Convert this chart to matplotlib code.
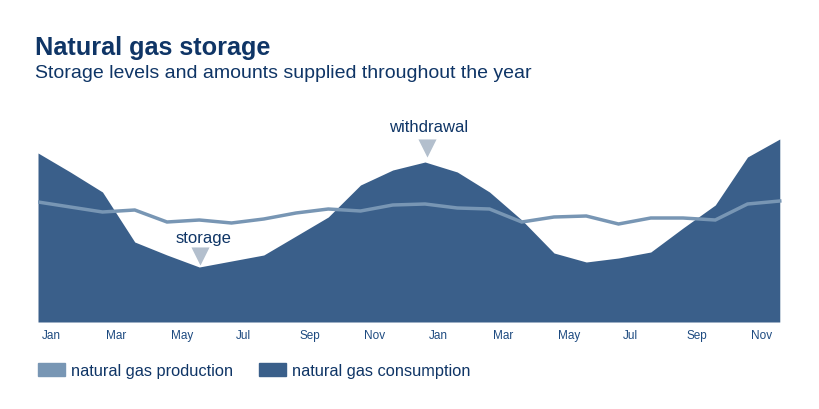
import numpy as np
import matplotlib.pyplot as plt
from matplotlib.patches import Patch

# two years, monthly
months = np.arange(24)
tick_labels = ["Jan", "Mar", "May", "Jul", "Sep", "Nov"] * 2

consumption = [169, 150, 130, 80, 67, 55, 61, 67, 86, 105, 137, 152,
               160, 150, 130, 102, 69, 60, 64, 70, 94, 117, 165, 183]
production = [120, 115, 110, 112, 100, 102, 99, 103, 109, 113, 111, 117,
              118, 114, 113, 100, 105, 106, 98, 104, 104, 102, 118, 121]

dark = "#3a5f8a"
light = "#7896b4"
navy = "#0f3566"
label_col = "#1d4a80"
marker_col = "#b3bfcd"
font = "Liberation Sans"

fig = plt.figure(figsize=(8.2, 4.09), dpi=100)
fig.patch.set_facecolor("white")

W, H = 820, 409
ax = fig.add_axes([38 / W, 1 - 322 / H, (783 - 38) / W, (322 - 100) / H])
ax.fill_between(months, consumption, 0, color=dark, lw=0)
ax.plot(months, production, color=light, lw=2.5, solid_joinstyle="miter")
ax.set_xlim(0, 23.1)
ax.set_ylim(0, 222)
ax.set_facecolor("none")
for s in ax.spines.values():
    s.set_visible(False)
ax.set_yticks([])
# labels sit a little right of the month they mark
ax.set_xticks(months[::2] + 0.12)
ax.set_xticklabels(tick_labels, ha="left", color=label_col, fontsize=8.5,
                   fontfamily=font)
ax.tick_params(axis="x", length=0, pad=6)

# annotations
ax.text(12.1, 322 - 128, "withdrawal", ha="center", va="center",
        color=navy, fontsize=12, fontfamily=font)
ax.scatter([12.05], [322 - 148], marker="v", s=170, color=marker_col, lw=0)
ax.text(5.12, 322 - 239, "storage", ha="center", va="center",
        color=navy, fontsize=12, fontfamily=font)
ax.scatter([5.02], [322 - 256], marker="v", s=170, color=marker_col, lw=0)

fig.text(35 / W, 1 - 48 / H, "Natural gas storage", fontsize=18.2,
         fontweight="bold", color=navy, va="center", fontfamily=font)
fig.text(35 / W, 1 - 73 / H, "Storage levels and amounts supplied throughout the year",
         fontsize=14.0, color=navy, va="center", fontfamily=font)

handles = [Patch(color=light, label="natural gas production"),
           Patch(color=dark, label="natural gas consumption")]
fig.legend(handles=handles, loc="center left", bbox_to_anchor=(23 / W, 1 - 371 / H),
           ncol=2, frameon=False, handlelength=1.65, handleheight=0.85,
           columnspacing=1.55, handletextpad=0.4,
           prop={"family": font, "size": 11.8}, labelcolor=navy)

fig.savefig("out.png", dpi=100)
